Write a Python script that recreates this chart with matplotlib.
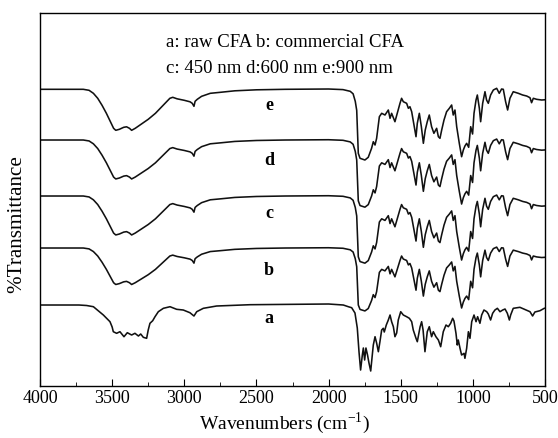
import numpy as np
import matplotlib
matplotlib.use('Agg')
import matplotlib.pyplot as plt
from matplotlib.ticker import MultipleLocator

plt.rcParams['font.family'] = ['Liberation Serif', 'DejaVu Serif']
plt.rcParams['mathtext.fontset'] = 'custom'
plt.rcParams['mathtext.rm'] = 'Liberation Serif'

# --- spectrum shared by samples b-e (drop below baseline, a.u.) ---
wn_bcde = [4000, 3700, 3660, 3630, 3600, 3570, 3540, 3510, 3490, 3475, 3450,
           3420, 3400, 3380, 3365, 3340, 3300, 3250, 3200, 3160, 3120, 3100,
           3080, 3050, 3000, 2960, 2945, 2933, 2925, 2910, 2880, 2850, 2820,
           2750, 2650, 2500, 2300, 2000, 1900, 1850, 1830, 1815, 1805, 1794,
           1782, 1748, 1725, 1702, 1690, 1678, 1667, 1648, 1632, 1609, 1586,
           1574, 1563, 1540, 1524, 1505, 1494, 1482, 1459, 1447, 1436, 1424,
           1408, 1394, 1385, 1371, 1357, 1343, 1330, 1316, 1302, 1286, 1270,
           1251, 1239, 1228, 1216, 1200, 1182, 1163, 1147, 1136, 1124, 1112,
           1094, 1078, 1066, 1055, 1043, 1029, 1015, 1002, 992, 978, 969, 955,
           946, 932, 916, 905, 893, 877, 858, 835, 817, 801, 789, 773, 759,
           743, 720, 685, 655, 627, 604, 593, 581, 558, 523, 505]
drop_bcde = [0, 0, 1, 4, 9, 16, 24, 33, 39, 41, 40,
             38, 37.5, 39, 41, 39, 35, 30, 24, 18, 12, 9,
             8, 9.5, 11, 12.5, 14, 17, 12, 10, 7, 5.5, 4,
             3, 1.5, 0.5, 0, -0.3, 0.3, 2, 4.5, 12, 21, 64,
             69, 70.7, 68, 59, 52.4, 55.7, 49, 27.4, 24, 25.7, 20.7,
             29, 24, 32.4, 24, 14, 9, 12.4, 14, 19, 17.4, 22.4,
             35.7, 47.4, 34, 24, 37.4, 54, 40.7, 32.4, 25.7, 37.4, 44,
             39, 47.4, 49, 40.7, 30.7, 22.4, 19, 15.7, 25.7, 20.7, 37.4,
             54, 67.4, 60.7, 56.7, 54, 58, 37.4, 44.7, 24, 10.7, 5.7, 19,
             32.4, 14, 2.4, 10.7, 14, 5.7, 0.7, -1, 4, -0.3, 0, 12.4, 20.7,
             9, 2.4, 4, 5.7, 6.7, 8.4, 13.4, 9, 10, 10.7, 10.5]

# --- spectrum of sample a (raw CFA) ---
wn_a = [4000, 3730, 3677, 3630, 3561, 3515, 3500, 3492, 3469, 3446, 3418,
        3395, 3365, 3342, 3318, 3302, 3284, 3261, 3250, 3238, 3219, 3203,
        3180, 3145, 3099, 3053, 3007, 2961, 2933, 2914, 2868, 2776, 2545,
        2000, 1898, 1863, 1840, 1817, 1801, 1789, 1778, 1766, 1759, 1750,
        1741, 1730, 1720, 1708, 1697, 1690, 1678, 1667, 1655, 1644, 1632,
        1621, 1614, 1600, 1586, 1574, 1563, 1551, 1540, 1528, 1517, 1500,
        1482, 1459, 1440, 1424, 1413, 1394, 1385, 1366, 1355, 1345, 1332,
        1316, 1302, 1286, 1274, 1256, 1239, 1223, 1205, 1186, 1170, 1154,
        1140, 1131, 1117, 1108, 1101, 1089, 1078, 1061, 1055, 1043, 1031,
        1020, 1008, 992, 978, 967, 951, 939, 923, 904, 893, 877, 863, 847,
        830, 812, 793, 777, 761, 747, 738, 720, 674, 639, 604, 586, 570,
        535, 505]
drop_a = [0, 0, 0.5, 1.7, 10, 16.7, 22, 26.7, 28.3, 26.7, 31.7,
          27.7, 30, 28.3, 31, 29, 32.3, 33.3, 25, 18.3, 15.7, 11.7,
          6.7, 3.3, 1.7, 4.3, 5, 7.7, 11, 6.7, 3.3, 1, -0.3,
          -1, 0, 1.7, 2.7, 8, 23, 47, 65, 50, 43, 55,
          43, 50, 58, 66, 50, 40, 31.7, 38, 46.7, 36.7, 25,
          23.3, 27, 20, 15, 10, 16.7, 21.7, 31.7, 28, 15, 6.7,
          10, 11.7, 13.3, 16.7, 25, 33.3, 36.7, 22, 16.7, 25, 46.7,
          26.7, 21.7, 31.7, 26.7, 31.7, 35, 41.7, 26.7, 20, 21.7, 18.3,
          13.3, 16, 28.3, 40, 35, 43.3, 50, 48.3, 53.3, 43.3, 26.7,
          33.3, 16.7, 10, 16.7, 11.7, 18.3, 10, 5, 6.7, 9, 15, 8.3, 5,
          3.3, 6.7, 5, 4, 8.3, 15, 10, 3.3, 2.3, 4.5, 6.7, 11, 7,
          5.7, 3.3]

labels = ['e', 'd', 'c', 'b', 'a']
baselines = [296.7, 246, 190, 138, 81]
depth_scale = [1.0, 0.95, 0.95, 0.89, 1.0]
label_y = [281, 226, 173, 116, 68]
label_wn = 2413

fig = plt.figure(figsize=(5.58, 4.38), dpi=100)
ax = fig.add_axes([0.0717, 0.1187, 0.905, 0.8516])

for name, base, sc, ly in zip(labels, baselines, depth_scale, label_y):
    if name == 'a':
        x, d = np.array(wn_a), np.array(drop_a)
    else:
        x, d = np.array(wn_bcde), np.array(drop_bcde)
    ax.plot(x, base - sc * d, color='#111111', linewidth=1.15)
    ax.text(label_wn, ly, name, fontsize=13, fontweight='bold',
            ha='center', va='center')

ax.text(3127, 344, 'a: raw CFA b: commercial CFA', fontsize=13.5,
        ha='left', va='center')
ax.text(3127, 318, 'c: 450 nm d:600 nm e:900 nm', fontsize=13.5,
        ha='left', va='center')

ax.set_xlim(4000, 500)
ax.set_ylim(0, 373)
ax.xaxis.set_major_locator(MultipleLocator(500))
ax.xaxis.set_minor_locator(MultipleLocator(250))
ax.tick_params(axis='x', which='major', direction='in', length=5,
               labelsize=13, pad=3)
ax.tick_params(axis='x', which='minor', direction='in', length=3)
ax.set_yticks([])
for sp in ax.spines.values():
    sp.set_linewidth(1.0)

ax.set_xlabel('Wavenumbers (cm$^{-1}$)', fontsize=14)
ax.xaxis.set_label_coords(0.484, -0.064, transform=ax.transAxes)
ax.xaxis.label.set_va('top')
ax.set_ylabel('%Transmittance', fontsize=15.2)
ax.yaxis.set_label_coords(-0.028, 0.434, transform=ax.transAxes)

fig.savefig('out.png', dpi=100)
